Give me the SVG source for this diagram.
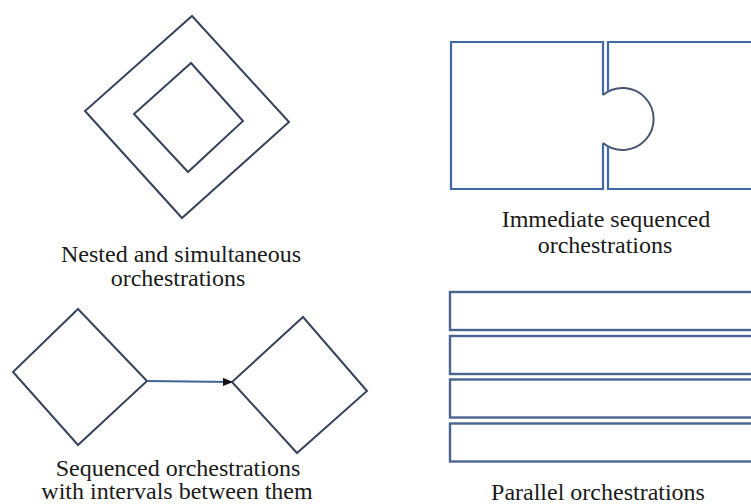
<svg xmlns="http://www.w3.org/2000/svg" width="751" height="504" viewBox="0 0 751 504">
  <defs>
    <style>
      .diamond { fill: none; stroke: #38445c; stroke-width: 2; stroke-linejoin: miter; }
      .block { fill: none; stroke: #4169a6; stroke-width: 2.2; }
      .tab { fill: none; stroke: #4a5670; stroke-width: 2; }
      .bar { fill: none; stroke: #4a6490; stroke-width: 2.4; }
      .link { fill: none; stroke: #3f6494; stroke-width: 2; }
      text { font-family: 'Liberation Serif', 'Times New Roman', 'DejaVu Serif', serif; font-size: 24px; fill: #1a1a1a; text-anchor: middle; }
    </style>
    <marker id="arrowhead" markerWidth="10" markerHeight="8" refX="9" refY="4" orient="auto" markerUnits="userSpaceOnUse">
      <path d="M0,0 L10,4 L0,8 Z" fill="#111"/>
    </marker>
  </defs>
  <rect width="751" height="504" fill="#fff"/>

  <!-- nested and simultaneous -->
  <g id="nested">
    <polygon class="diamond" points="192,16 289,122 182,218 85,111"/>
    <polygon class="diamond" points="191,63 243,121 188,172 134,114"/>
    <text x="181" y="262" font-family="Liberation Serif, serif">Nested and simultaneous</text>
    <text x="178" y="286" font-family="Liberation Serif, serif">orchestrations</text>
  </g>

  <!-- immediate sequenced: two interlocking blocks -->
  <g id="immediate">
    <path class="block" d="M603,95 V42 H451 V189 H603 V143"/>
    <path class="tab" d="M603,95 A31,31 0 1 1 603,143"/>
    <path class="block" d="M608,92 V42 H760 M608,146 V189 H760"/>
    <text x="606" y="227" font-family="Liberation Serif, serif">Immediate sequenced</text>
    <text x="605" y="253" font-family="Liberation Serif, serif">orchestrations</text>
  </g>

  <!-- sequenced with intervals -->
  <g id="seq-first">
    <polygon class="diamond" points="78,309 147,381 78,445 13,372"/>
  </g>
  <g id="seq-second">
    <polygon class="diamond" points="303,317 367,391 297,453 232,382"/>
  </g>
  <g id="connectors">
    <line class="link" x1="147" y1="381" x2="232" y2="382" marker-end="url(#arrowhead)"/>
  </g>
  <g id="seq-label">
    <text x="178" y="476" font-family="Liberation Serif, serif">Sequenced orchestrations</text>
    <text x="177" y="499" font-family="Liberation Serif, serif">with intervals between them</text>
  </g>

  <!-- parallel -->
  <g id="parallel">
    <rect class="bar" x="450" y="292" width="320" height="38"/>
    <rect class="bar" x="450" y="336" width="320" height="38"/>
    <rect class="bar" x="450" y="379.5" width="320" height="38"/>
    <rect class="bar" x="450" y="423.5" width="320" height="38"/>
    <text x="598" y="500" font-family="Liberation Serif, serif">Parallel orchestrations</text>
  </g>
</svg>
